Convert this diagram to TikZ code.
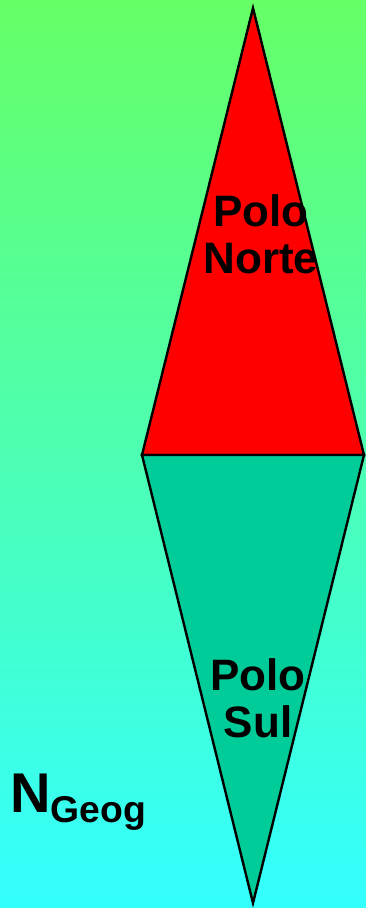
\documentclass[tikz,border=0pt]{standalone}
\usepackage{fontspec}
\setmainfont{Liberation Sans}
\usetikzlibrary{positioning}
\definecolor{bgtop}{HTML}{66FF66}
\definecolor{bgbottom}{HTML}{33FFFF}
\definecolor{sulfill}{HTML}{00CC99}

\begin{document}
\begin{tikzpicture}[
        x=0.75pt, y=-0.75pt,
        half/.style={draw=black, line width=1.8pt, line join=miter},
        label/.style={font=\bfseries\fontsize{33}{35}\selectfont, align=center, inner sep=0pt}
    ]

    % The Background
    \shade[top color=bgtop, bottom color=bgbottom] (0,0) rectangle (366,908);
    \useasboundingbox (0,0) rectangle (366,908);

    % The Needle Corners
    \coordinate (tip) at (253,8);
    \coordinate (west) at (142,455);
    \coordinate (east) at (364,455);
    \coordinate (tail) at (253,903);

    % The Two Halves
    \filldraw [half, fill=red] (tip) -- (east) -- (west) -- cycle;
    \filldraw [half, fill=sulfill] (west) -- (east) -- (tail) -- cycle;

    % The Labels
    \node (norte) [label, anchor=base] at (261,273) {Polo\\Norte};
    \node (sul) [label, anchor=base] at (258,737) {Polo\\Sul};
    \node (geog) [anchor=base west, inner sep=0pt, font=\bfseries\fontsize{42}{50}\selectfont] at (10,812) {N\raisebox{-8pt}{\fontsize{28}{30}\selectfont Geog}};

    \end{tikzpicture}
\end{document}
